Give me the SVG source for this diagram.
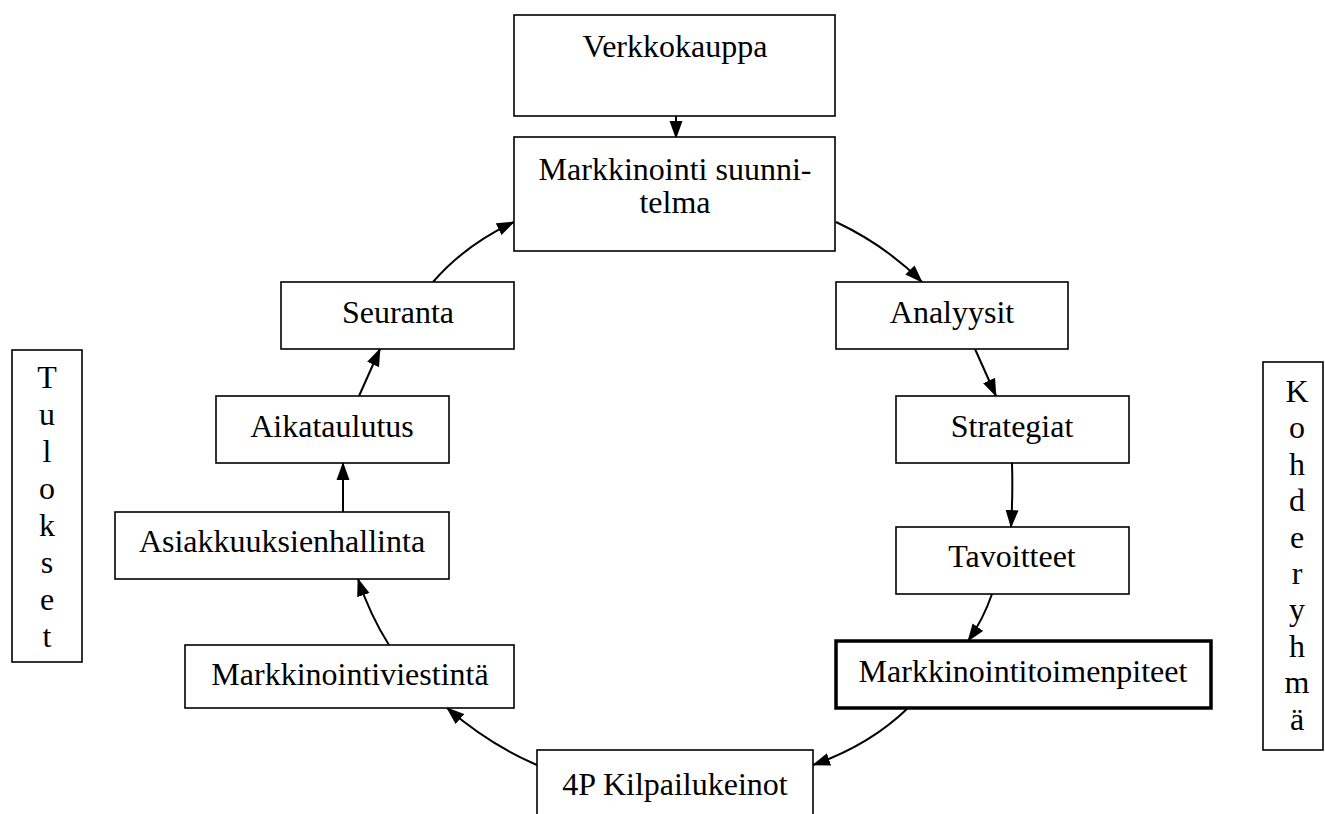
<svg xmlns="http://www.w3.org/2000/svg" width="1325" height="814" viewBox="0 0 1325 814">
<defs>
<marker id="ah" markerUnits="userSpaceOnUse" markerWidth="18" markerHeight="14" refX="17" refY="7" orient="auto">
<path d="M0,0.5 L18,7 L0,13.5 z" fill="#000"/>
</marker>
<style>
.box{fill:#fff;stroke:#000;stroke-width:1.6}
.thick{stroke-width:3.5}
.t{font-family:"Liberation Serif","Times New Roman",serif;font-size:32px;fill:#000;text-anchor:middle}
.c{fill:none;stroke:#000;stroke-width:2;marker-end:url(#ah)}
</style>
</defs>
<rect width="1325" height="814" fill="#fff"/>
<g id="connectors">
<path class="c" d="M676,116 L676,138"/>
<path class="c" d="M836,222 Q885,245 922,282"/>
<path class="c" d="M975,349 L996,396"/>
<path class="c" d="M1012,463 Q1013,495 1011,527"/>
<path class="c" d="M992,594 Q983,620 968,641"/>
<path class="c" d="M908,708 Q870,745 813,765"/>
<path class="c" d="M537,765 Q490,745 447,708"/>
<path class="c" d="M389,645 Q370,615 358,579"/>
<path class="c" d="M343,512 L343,463"/>
<path class="c" d="M359,396 L380,349"/>
<path class="c" d="M433,282 Q465,245 514,222"/>
</g>
<g id="verkkokauppa">
<rect class="box" x="514" y="15" width="321" height="101"/>
<text class="t" x="675" y="57">Verkkokauppa</text>
</g>
<g id="markkinointisuunnitelma">
<rect class="box" x="514" y="137" width="321" height="114"/>
<text class="t" x="675" y="180">Markkinointi suunni-</text>
<text class="t" x="675" y="213">telma</text>
</g>
<g id="analyysit">
<rect class="box" x="836" y="282" width="232" height="67"/>
<text class="t" x="952" y="323">Analyysit</text>
</g>
<g id="strategiat">
<rect class="box" x="896" y="396" width="233" height="67"/>
<text class="t" x="1012" y="437">Strategiat</text>
</g>
<g id="tavoitteet">
<rect class="box" x="896" y="527" width="233" height="67"/>
<text class="t" x="1012" y="567">Tavoitteet</text>
</g>
<g id="markkinointitoimenpiteet">
<rect class="box thick" x="836" y="641" width="375" height="67"/>
<text class="t" x="1023" y="682">Markkinointitoimenpiteet</text>
</g>
<g id="kilpailukeinot">
<rect class="box" x="537" y="750" width="276" height="80"/>
<text class="t" x="675" y="795">4P Kilpailukeinot</text>
</g>
<g id="markkinointiviestinta">
<rect class="box" x="185" y="645" width="329" height="63"/>
<text class="t" x="350" y="685">Markkinointiviestintä</text>
</g>
<g id="asiakkuuksienhallinta">
<rect class="box" x="115" y="512" width="334" height="67"/>
<text class="t" x="282" y="552">Asiakkuuksienhallinta</text>
</g>
<g id="aikataulutus">
<rect class="box" x="216" y="396" width="233" height="67"/>
<text class="t" x="332" y="437">Aikataulutus</text>
</g>
<g id="seuranta">
<rect class="box" x="281" y="282" width="233" height="67"/>
<text class="t" x="398" y="323">Seuranta</text>
</g>
<g id="tulokset">
<rect class="box" x="12" y="350" width="70" height="312"/>
<text class="t" x="47" y="388"><tspan x="47">T</tspan><tspan x="47" dy="37">u</tspan><tspan x="47" dy="37">l</tspan><tspan x="47" dy="37">o</tspan><tspan x="47" dy="37">k</tspan><tspan x="47" dy="37">s</tspan><tspan x="47" dy="37">e</tspan><tspan x="47" dy="37">t</tspan></text>
</g>
<g id="kohderyhma">
<rect class="box" x="1263" y="362" width="60" height="388"/>
<text class="t" x="1297" y="402"><tspan x="1297">K</tspan><tspan x="1297" dy="36.4">o</tspan><tspan x="1297" dy="36.4">h</tspan><tspan x="1297" dy="36.4">d</tspan><tspan x="1297" dy="36.4">e</tspan><tspan x="1297" dy="36.4">r</tspan><tspan x="1297" dy="36.4">y</tspan><tspan x="1297" dy="36.4">h</tspan><tspan x="1297" dy="36.4">m</tspan><tspan x="1297" dy="36.4">ä</tspan></text>
</g>
</svg>
